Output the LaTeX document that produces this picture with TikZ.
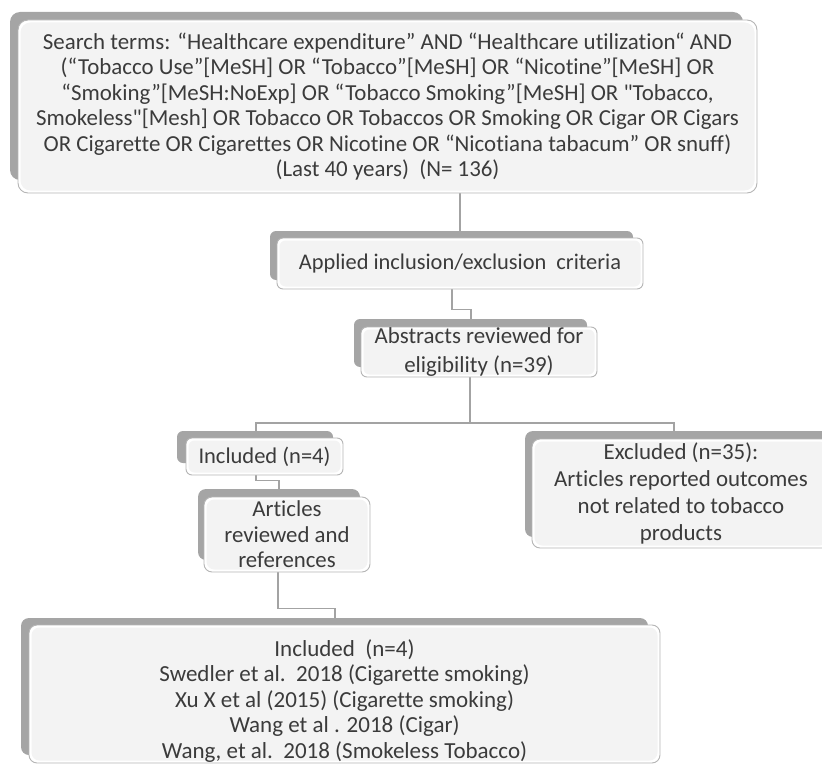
\documentclass[tikz,border=0pt]{standalone}
\usepackage{fontspec}
\setmainfont{Carlito}[Ligatures={TeXOff,NoCommon}]
\pgfdeclarelayer{bg}
\pgfsetlayers{bg,main}
\definecolor{shd}{HTML}{A5A5A5}
\definecolor{edgec}{HTML}{B5B5B5}
\definecolor{innerc}{HTML}{F3F3F3}
\definecolor{txt}{HTML}{3B3B3B}
\definecolor{conc}{HTML}{A3A3A3}
\tikzset{
 front/.style={draw=edgec, line width=0.9pt, fill=white, rounded corners=#1, inner sep=0pt, text=txt, align=center,
   path picture={\fill[innerc, rounded corners=#1] ([shift={(2.5,2.5)}]path picture bounding box.north west) rectangle ([shift={(-2.5,-2.5)}]path picture bounding box.south east);}},
 front/.default=8,
 shadowbox/.style={fill=shd, rounded corners=#1},
 shadowbox/.default=8,
 conn/.style={draw=conc, line width=1.4pt},
}
\begin{document}
\begin{tikzpicture}[x=1pt,y=-1pt]
\useasboundingbox (0,0) rectangle (822,765);
% shadows
\fill[shadowbox=10] (10,12) rectangle (743,180);
\fill[shadowbox=6] (270,231) rectangle (633,280);
\fill[shadowbox=6] (354,319) rectangle (587,367);
\fill[shadowbox=6] (177,431) rectangle (333,463);
\fill[shadowbox=8] (198,489) rectangle (360,560);
\fill[shadowbox=8] (525,431) rectangle (830,537);
\fill[shadowbox=8] (21,618) rectangle (648,755);
% boxes
\node[front=10, minimum width=739, minimum height=173, font=\fontsize{22.9}{25.4}\selectfont] (top) at (387.5,106.5)
 {Search terms: “Healthcare expenditure” AND “Healthcare utilization“ AND\\
  (“Tobacco Use”[MeSH] OR “Tobacco”[MeSH] OR “Nicotine”[MeSH] OR\\
  “Smoking”[MeSH:NoExp] OR “Tobacco Smoking”[MeSH] OR "Tobacco,\\
  Smokeless"[Mesh] OR Tobacco OR Tobaccos OR Smoking OR Cigar OR Cigars\\
  OR Cigarette OR Cigarettes OR Nicotine OR “Nicotiana tabacum” OR snuff)\\
  (Last 40 years)\ \ (N= 136)};
\node[front=6, minimum width=366, minimum height=51, font=\fontsize{22.4}{26}\selectfont] (app) at (460,263.5)
 {Applied inclusion/exclusion\ \ criteria};
\node[front=6, minimum width=236, minimum height=50, font=\fontsize{22.9}{29}\selectfont] (abs) at (479,352)
 {Abstracts reviewed for\\ eligibility (n=39)};
\node[front=6, minimum width=157, minimum height=37, font=\fontsize{22.5}{25}\selectfont] (inc) at (264.5,456.5)
 {Included (n=4)};
\node[front=8, minimum width=166, minimum height=75, font=\fontsize{22.8}{25.5}\selectfont] (art) at (287,534.5)
 {Articles\\ reviewed and\\ references};
\node[front=8, minimum width=298, minimum height=109, font=\fontsize{22.9}{27}\selectfont] (exc) at (681,493.5)
 {Excluded (n=35):\\ Articles reported outcomes\\ not related to tobacco\\ products};
\node[front=8, minimum width=631, minimum height=138, font=\fontsize{23}{25.5}\selectfont] (bot) at (344.5,694)
 {\rule{0pt}{30pt}Included\ \ (n=4)\\
  Swedler et al.\ \ 2018 (Cigarette smoking)\\
  Xu X et al (2015) (Cigarette smoking)\\
  Wang et al . 2018 (Cigar)\\
  Wang, et al.\ \ 2018 (Smokeless Tobacco)};
% connectors
\begin{pgfonlayer}{bg}
\coordinate (split) at (470,423);
\draw[conn] (top.south -| app.north) -- (app.north);
\draw[conn] ([xshift=-8]app.south) -- ++(0,20) -| ([xshift=-8]abs.north);
\draw[conn] (abs.south -| split) -- (split);
\draw[conn] ([xshift=-8.5]inc.north) |- (split) -| ([xshift=-7]exc.north);
\draw[conn] ([xshift=-8.5]inc.south) -- ++(0,5) -| ([xshift=-8]art.north);
\draw[conn] ([xshift=-9]art.south) -- ++(0,36) -| ([xshift=-9.5]bot.north);
\end{pgfonlayer}
\end{tikzpicture}
\end{document}
